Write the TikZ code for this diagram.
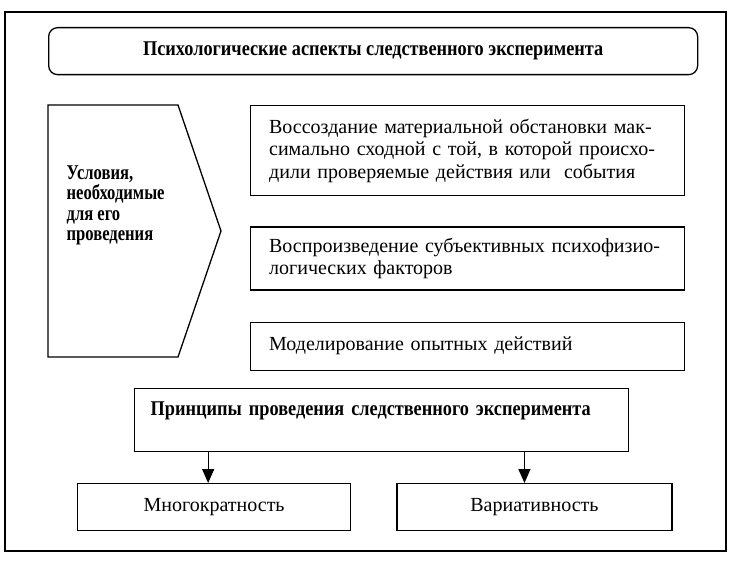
\documentclass[tikz,border=0pt]{standalone}
\usepackage{fontspec}
\setmainfont{Liberation Serif}
\newfontfamily\headfont{Liberation Serif}[FakeStretch=0.87]
\newfontfamily\sidefont{Liberation Serif}[FakeStretch=0.79]
\usetikzlibrary{arrows.meta,positioning}

\newcommand{\fullline}[1]{\makebox[397pt][s]{#1}}
\newcommand{\tightlines}{\lineskiplimit-8pt\relax}

\begin{document}
\begin{tikzpicture}[x=1pt,y=-1pt,>={Triangle[length=14pt,width=12pt]},
  line width=1.3pt,
  box node/.style={draw,rectangle,inner sep=0pt,font=\fontsize{20}{22}\selectfont},
  text node/.style={box node,text width=397pt,align=left,minimum width=434pt},
  head node/.style={box node,font=\headfont\fontsize{21}{22}\selectfont\bfseries}]

  \useasboundingbox (0,0) rectangle (737,564);
  \draw[line width=2pt] (5,12) rectangle (726,551);

  \node[head node,rounded corners=9pt,anchor=north west,minimum width=649pt,minimum height=47pt] (1) at (48,27)
    {Психологические аспекты следственного эксперимента};

  % left block
  \draw (48,105) -- (178,105) -- (221,231) -- (178,357) -- (48,357) -- cycle;
  \node[head node,draw=none,anchor=north west,align=left,
    font=\sidefont\fontsize{21}{20.5}\selectfont\bfseries\tightlines] (2) at (66,165)
    {Условия,\\необходимые\\для его\\проведения};

  % conditions
  \node[text node,anchor=north west,minimum height=90pt,font=\fontsize{20}{22.5}\selectfont] (3) at (250,105)
    {\fullline{Воссоздание материальной обстановки мак-}\\
     \fullline{симально сходной с той, в которой происхо-}\\
     дили проверяемые действия или\ \ события};
  \node[text node,minimum height=63pt] (4) [below=30pt of 3]
    {\fullline{Воспроизведение субъективных психофизио-}\\
     логических факторов};
  \node[text node,minimum height=48pt] (5) [below=31pt of 4]
    {Моделирование опытных действий};

  % principles
  \node[head node,anchor=north west,minimum width=494pt,text width=462pt,align=left,text height=27pt,text depth=36pt] (6) at (134,388)
    {Принципы проведения следственного эксперимента};
  \node[box node,anchor=north west,minimum width=273pt,minimum height=47pt] (7) at (77,483) {Многократность};
  \node[box node,minimum width=275pt,minimum height=47pt] (8) [right=45pt of 7] {Вариативность};

  \draw[->] ([xshift=-6pt]7.north |- 6.south) -- ([xshift=-6pt]7.north);
  \draw[->] ([xshift=-10pt]8.north |- 6.south) -- ([xshift=-10pt]8.north);

\end{tikzpicture}
\end{document}
